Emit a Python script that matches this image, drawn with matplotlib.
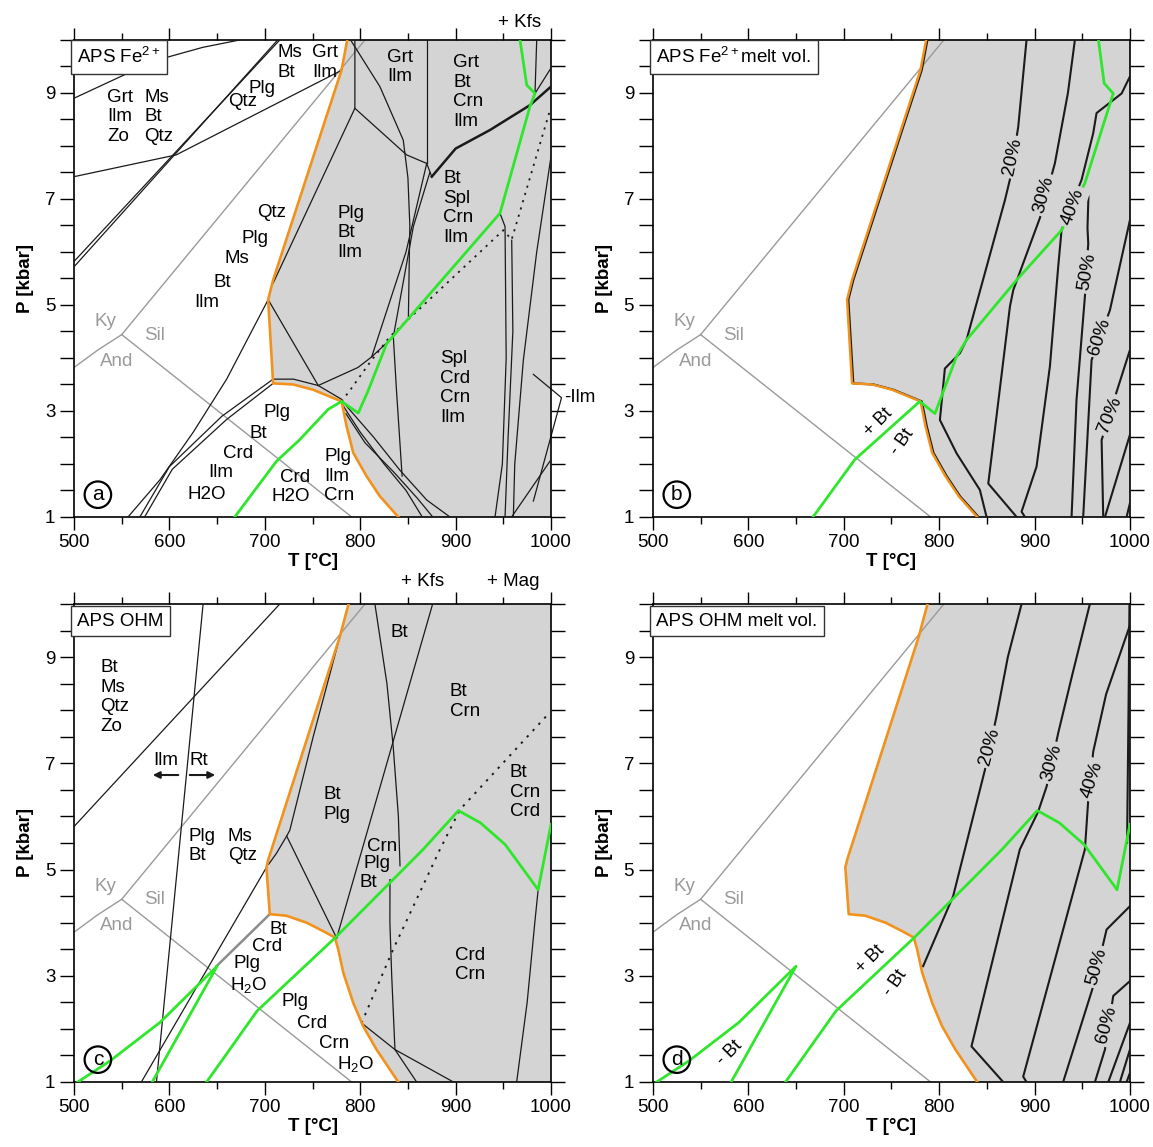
import numpy as np
import matplotlib.pyplot as plt
from matplotlib.ticker import MultipleLocator, FixedLocator

plt.rcParams['font.family'] = ['Liberation Sans', 'DejaVu Sans']
plt.rcParams['mathtext.fontset'] = 'custom'
plt.rcParams['mathtext.rm'] = 'Liberation Sans'
plt.rcParams['mathtext.it'] = 'Liberation Sans:italic'
plt.rcParams['mathtext.bf'] = 'Liberation Sans:bold'

SHADE = '#d4d4d4'
ORANGE = '#f2921c'
GREEN = '#2fe62c'
ALGRAY = '#9a9a9a'
INK = '#1a1a1a'
FS = 13.5

# aluminosilicate reactions (T [C], P [kbar])
ky_sil = [(550, 4.44), (805, 10.0)]
and_sil = [(550, 4.44), (791, 1.0)]
ky_and = [(500, 3.82), (525, 4.15), (550, 4.44)]

# solidus, APS Fe2+ (a, b)
sol_fe = [(786.4, 10), (780.4, 9.43), (708.7, 5.47), (703.5, 5.10), (708.7, 3.52),
          (729.7, 3.50), (750.7, 3.40), (768.2, 3.27), (780.4, 3.18), (782.2, 3.03),
          (785.7, 2.71), (792.7, 2.21), (806.6, 1.77), (820.6, 1.39), (839.9, 1.0)]
# solidus, APS OHM (c, d)
sol_ohm = [(787.8, 10), (778.7, 9.39), (703.5, 5.18), (701.7, 5.04), (705.2, 4.16),
           (722.7, 4.13), (743.7, 4.0), (761.2, 3.84), (773.4, 3.72), (776.9, 3.50),
           (782.2, 3.06), (792.7, 2.49), (803.1, 2.05), (817.1, 1.61), (839.9, 1.0)]

# biotite-out (green) lines
bt_fe = [(668.5, 1.0), (712.2, 2.05), (736.7, 2.46), (766.4, 3.03), (780.4, 3.18),
         (797.9, 2.96), (808.5, 3.39), (827.7, 4.27), (946.5, 6.73), (978, 8.75),
         (983.2, 8.99), (974.5, 9.15), (967.5, 10)]
bt_fe_melt = [(667.8, 1.0), (711.5, 2.08), (779.7, 3.18), (795.6, 2.95), (818.3, 4.03),
              (828.7, 4.34), (881.2, 5.47), (928.3, 6.41), (952.8, 7.30), (982.5, 8.99),
              (973, 9.18), (967, 10)]
bt_ohm_low = [(504, 1.0), (538, 1.40), (590, 2.12), (650, 3.18), (582, 1.0)]
bt_ohm = [(639, 1.0), (692, 2.34), (774, 3.72), (866, 5.38), (903, 6.11),
          (926, 5.88), (952, 5.47), (986.5, 4.62), (1000, 5.85)]

# APS Fe2+ phase boundaries
fe_lines = [
    [(500, 8.90), (555, 9.36), (597, 9.67), (635, 9.86), (674, 10)],
    [(500, 7.42), (607, 7.83), (779.7, 9.42)],
    [(500, 5.82), (715.7, 10)],
    [(500, 5.72), (713.5, 10)],
    [(703.5, 5.1), (660, 3.6), (625, 2.6), (590, 1.7), (556.6, 1.0)],
    [(708.7, 3.6), (655, 2.9), (600, 1.95), (569, 1.0)],
    [(708.7, 3.52), (660, 2.84), (603, 1.9), (574, 1.0)],
    [(708.7, 3.6), (730, 3.6), (756, 3.48), (780.4, 3.22)],
    [(703.5, 5.1), (756, 3.48)],
    [(756, 3.48), (797.6, 3.82), (812, 4.02), (834.7, 4.40)],
    [(834.7, 4.4), (838, 3.39), (843.9, 1.77)],
    [(873, 7.5), (855.7, 6.48), (834.7, 4.40)],
    [(869.7, 7.67), (848, 6.0), (812, 4.02)],
    [(790.9, 9.97), (820.6, 9.12), (845.1, 8.11), (850, 7.4), (852, 6.5), (850.5, 4.78)],
    [(794.4, 10), (794.4, 8.71), (708.7, 5.41)],
    [(794.4, 8.71), (848.7, 7.83), (869.7, 7.67), (875, 7.42)],
    [(869.7, 10), (869.7, 7.67)],
    [(985, 10), (983.2, 8.99)],
    [(983.2, 8.99), (1000, 9.47)],
    [(946.5, 6.73), (951.8, 6.48), (953, 4.0), (949, 2.0), (941.3, 1.0)],
    [(958.8, 6.22), (960, 4.5), (955, 2.5), (951.8, 1.0)],
    [(1000, 7.8), (985, 6.0), (971, 3.96), (962, 2.0), (960.5, 1.0)],
    [(958.7, 1.0), (1000, 2.08)],
    [(782, 3.1), (800, 2.6), (825, 2.0), (848, 1.5), (865, 1.0)],
    [(785, 2.95), (805, 2.4), (835, 1.85), (860, 1.35), (876, 1.0)],
    [(780.4, 3.2), (813.8, 2.51), (841.7, 1.88), (869.7, 1.32), (894, 1.0)],
]
fe_heavy = [(875, 7.42), (900, 7.95), (936, 8.30), (978, 8.77), (1000, 9.12)]
fe_dotted = [(780.4, 3.18), (789.3, 3.39), (812, 3.96), (831, 4.40), (950, 6.41),
             (958.7, 6.23), (999, 8.68)]
ilm_bracket = [(981.5, 3.69), (1011, 3.25), (981.5, 1.30)]

# APS OHM phase boundaries
ohm_lines = [
    [(635.3, 10), (586.4, 1.0)],
    [(500, 5.81), (715.7, 10)],
    [(701.7, 5.04), (570.6, 1.0)],
    [(778.7, 9.39), (750.7, 7.5), (726.2, 5.74), (722.9, 5.63), (712, 5.3), (704, 5.1)],
    [(722.9, 5.63), (775.3, 3.71)],
    [(875.9, 10), (775.3, 3.71)],
    [(815.4, 10), (828, 8.5), (834.6, 7.31), (840, 6.0), (841.7, 5.07)],
    [(831.2, 4.81), (831.1, 4.0), (833, 3.0), (836.4, 1.61), (859.1, 1.0)],
    [(801.4, 2.11), (836.4, 1.61), (897.6, 1.0)],
    [(964, 1.0), (975, 2.5), (983, 4.0), (986.5, 4.62)],
]
ohm_gray = [(705.2, 4.16), (649.3, 3.18)]
ohm_dotted = [(801.4, 2.11), (834.6, 3.50), (883.6, 5.38), (904.6, 6.13), (997.2, 7.93)]

# melt volume isopleths
fe_melt = {
    '20%': [(891.6, 10), (882.9, 8.36), (874.1, 7.36), (869, 6.98), (828.7, 4.34),
            (821.8, 4.09), (806, 3.80), (800.8, 2.83), (818.3, 2.2), (842.7, 1.51), (849.7, 1.0)],
    '30%': [(942.3, 10), (935, 9), (921.3, 7.67), (905.6, 6.64), (877.7, 5.28),
            (874.2, 4.97), (851.5, 1.63), (881.2, 1.0)],
    '40%': [(1000, 9.31), (991.3, 8.99), (965, 8.62), (961.5, 8.24), (949.3, 7.36),
            (928.3, 6.41), (924.8, 5.72), (916.1, 3.84), (902.1, 1.95), (886.4, 1.10), (889.9, 1.0)],
    '50%': [(956.5, 7.05), (955.5, 6.45), (956.3, 6.16), (952.8, 5.16), (944, 3.21), (938.8, 1.0)],
    '60%': [(1000, 6.60), (979, 4.90), (959.8, 3.96), (951, 1.0)],
    '70%': [(1000, 4.15), (986, 3.36), (970.3, 2.45), (972, 1.0)],
}
fe_melt_extra = [[(1000, 2.55), (973.8, 1.0)], [(1000, 1.26), (996.5, 1.0)]]
fe_melt_labels = {'20%': (877.4, 7.79, 78), '30%': (909.9, 7.08, 75), '40%': (940.3, 6.85, 70),
                  '50%': (954.9, 5.62, 80), '60%': (968.6, 4.40, 72), '70%': (979, 2.92, 68)}

ohm_melt = {
    '20%': [(886.4, 10), (872, 9.0), (860.1, 7.88), (847.9, 6.87), (827, 5.38),
            (814.7, 4.5), (783.2, 3.18)],
    '30%': [(958, 10), (940, 8.7), (924.8, 7.57), (912.6, 6.56), (903.8, 6.09),
            (884.6, 5.38), (833.9, 1.67), (867.1, 1.0)],
    '40%': [(1000, 9.6), (975, 8.3), (961.5, 7.22), (956.3, 6.31), (952.8, 5.38),
            (888.1, 1.1), (891.6, 1.0)],
    '50%': [(1000, 4.31), (975.5, 3.87), (961.5, 2.8), (930, 1.0)],
    '60%': [(1000, 2.9), (982.5, 2.62), (973.8, 1.61), (963.3, 1.0)],
}
ohm_melt_extra = [[(1000, 2.11), (977.3, 1.0)], [(1000, 1.61), (989.5, 1.0)],
                  [(1000, 1.17), (996.5, 1.0)], [(999.5, 10), (998.5, 8.0), (997, 5.5)]]
ohm_melt_labels = {'20%': (853.3, 7.31, 75), '30%': (918.2, 7.01, 75), '40%': (960.2, 6.69, 72),
                   '50%': (965.4, 3.17, 75), '60%': (975.9, 2.07, 75)}


def draw(ax, pts, **kw):
    t, p = zip(*pts)
    ax.plot(t, p, **kw)


def setup(ax, title, letter):
    ax.set_xlim(500, 1000)
    ax.set_ylim(1, 10)
    ax.xaxis.set_major_locator(MultipleLocator(100))
    ax.xaxis.set_minor_locator(MultipleLocator(50))
    ax.yaxis.set_major_locator(FixedLocator([1, 3, 5, 7, 9]))
    ax.yaxis.set_minor_locator(MultipleLocator(0.5))
    ax.tick_params(axis='x', which='both', direction='out', top=True, width=1, labelsize=13.5)
    ax.tick_params(axis='x', which='major', length=9)
    ax.tick_params(axis='x', which='minor', length=5)
    ax.tick_params(axis='y', which='both', direction='out', right=True, length=10, width=1,
                   labelsize=13.5)
    for s in ax.spines.values():
        s.set_linewidth(1.2)
    ax.set_xlabel('T [°C]', fontweight='bold', fontsize=13.5, labelpad=1)
    ax.set_ylabel('P [kbar]', fontweight='bold', fontsize=13.5, labelpad=8)
    ax.text(0.007, 0.964, title, transform=ax.transAxes, fontsize=FS, va='center', ha='left',
            bbox=dict(boxstyle='square,pad=0.35', fc='white', ec='#333333', lw=1), zorder=10)
    ax.text(525, 1.42, letter, fontsize=15, ha='center', va='center', zorder=10,
            bbox=dict(boxstyle='circle,pad=0.18', fc='none', ec='black', lw=1.6))
    # aluminosilicates
    for seg in (ky_sil, and_sil, ky_and):
        draw(ax, seg, color=ALGRAY, lw=1.0, zorder=2)
    for txt, t, p in (('Ky', 533, 4.68), ('Sil', 584, 4.43), ('And', 545, 3.94)):
        ax.text(t, p, txt, color=ALGRAY, fontsize=FS, ha='center', va='center')


def shade(ax, sol):
    t, p = zip(*sol)
    ax.fill(list(t) + [1010, 1010], list(p) + [1.0, 10.0], color=SHADE, lw=0, zorder=0)


def label(ax, t, p, s, ha='center', **kw):
    ax.text(t, p, s, fontsize=FS, ha=ha, va='center', linespacing=1.2, zorder=6, **kw)


fig = plt.figure(figsize=(11.53, 11.47), dpi=100)
ax_a = fig.add_axes([0.0642, 0.5493, 0.4137, 0.4159])
ax_b = fig.add_axes([0.5663, 0.5493, 0.4137, 0.4159])
ax_c = fig.add_axes([0.0642, 0.0567, 0.4137, 0.4167])
ax_d = fig.add_axes([0.5663, 0.0567, 0.4137, 0.4167])

# ---------------- (a) APS Fe2+
ax = ax_a
setup(ax, 'APS Fe$^{2+}$', 'a')
shade(ax, sol_fe)
for seg in fe_lines:
    draw(ax, seg, color=INK, lw=0.9, zorder=3)
draw(ax, fe_heavy, color=INK, lw=1.8, zorder=3)
draw(ax, fe_dotted, color=INK, lw=1.3, ls=(0, (1.2, 3)), zorder=3)
draw(ax, ilm_bracket, color=INK, lw=0.9, clip_on=False)
draw(ax, sol_fe, color=ORANGE, lw=1.9, zorder=4)
draw(ax, bt_fe, color=GREEN, lw=2.0, zorder=5)
label(ax, 534.6, 8.55, 'Grt\nIlm\nZo', ha='left')
label(ax, 573.4, 8.55, 'Ms\nBt\nQtz', ha='left')
label(ax, 712.8, 9.57, 'Ms\nBt', ha='left')
label(ax, 749.5, 9.57, 'Grt\nIlm', ha='left')
label(ax, 697.1, 9.09, 'Plg')
label(ax, 677.1, 8.83, 'Qtz')
label(ax, 841.7, 9.49, 'Grt\nIlm')
label(ax, 897.3, 9.02, 'Grt\nBt\nCrn\nIlm', ha='left')
for s, t, p in (('Qtz', 707.5, 6.74), ('Plg', 689.7, 6.26), ('Ms', 670.9, 5.87),
                ('Bt', 655.1, 5.42), ('Ilm', 639.4, 5.04)):
    label(ax, t, p, s)
label(ax, 775.7, 6.36, 'Plg\nBt\nIlm', ha='left')
label(ax, 886.8, 6.83, 'Bt\nSpl\nCrn\nIlm', ha='left')
label(ax, 883.6, 3.43, 'Spl\nCrd\nCrn\nIlm', ha='left')
for s, t, p in (('Plg', 712.8, 2.98), ('Bt', 692.9, 2.58), ('Crd', 671.9, 2.19),
                ('Ilm', 654.1, 1.83), ('H2O', 639.4, 1.42)):
    label(ax, t, p, s)
label(ax, 731.7, 1.75, 'Crd')
label(ax, 727.5, 1.38, 'H2O')
label(ax, 762.1, 1.77, 'Plg\nIlm\nCrn', ha='left')
ax.text(967.5, 10.32, '+ Kfs', fontsize=FS, ha='center', va='center', clip_on=False)
ax.text(1014, 3.25, '-Ilm', fontsize=FS, ha='left', va='center', clip_on=False)

# ---------------- (b) APS Fe2+ melt vol.
ax = ax_b
setup(ax, 'APS Fe$^{2+}$melt vol.', 'b')
shade(ax, sol_fe)
draw(ax, [(t + 1.3, p) for t, p in sol_fe], color=INK, lw=1.6, zorder=3)
draw(ax, sol_fe, color=ORANGE, lw=1.8, zorder=4)
for key, seg in fe_melt.items():
    draw(ax, seg, color=INK, lw=1.5, zorder=3)
for seg in fe_melt_extra:
    draw(ax, seg, color=INK, lw=1.5, zorder=3)
draw(ax, bt_fe_melt, color=GREEN, lw=2.0, zorder=5)
for key, (t, p, r) in fe_melt_labels.items():
    ax.text(t, p, key, fontsize=FS, rotation=r, ha='center', va='center', zorder=7,
            bbox=dict(boxstyle='square,pad=0.15', fc=SHADE, ec='none'))
ax.text(735.8, 2.79, '+ Bt', fontsize=13, rotation=45, ha='center', va='center')
ax.text(761, 2.42, '- Bt', fontsize=13, rotation=55, ha='center', va='center')

# ---------------- (c) APS OHM
ax = ax_c
setup(ax, 'APS OHM', 'c')
shade(ax, sol_ohm)
for seg in ohm_lines:
    draw(ax, seg, color=INK, lw=0.9, zorder=3)
draw(ax, ohm_gray, color='#8c8c8c', lw=1.8, zorder=3)
draw(ax, ohm_dotted, color=INK, lw=1.4, ls=(0, (1.2, 3.2)), zorder=3)
draw(ax, sol_ohm, color=ORANGE, lw=1.9, zorder=4)
draw(ax, bt_ohm_low, color=GREEN, lw=2.0, zorder=5)
draw(ax, bt_ohm, color=GREEN, lw=2.0, zorder=5)
label(ax, 527.3, 8.25, 'Bt\nMs\nQtz\nZo', ha='left')
label(ax, 596.4, 7.06, 'Ilm')
label(ax, 631, 7.06, 'Rt')
ax.annotate('', xy=(579.7, 6.78), xytext=(612.2, 6.78),
            arrowprops=dict(arrowstyle='-|>', color=INK, lw=1.5, mutation_scale=10))
ax.annotate('', xy=(650.9, 6.78), xytext=(618.4, 6.78),
            arrowprops=dict(arrowstyle='-|>', color=INK, lw=1.5, mutation_scale=10))
label(ax, 619.5, 5.44, 'Plg\nBt', ha='left')
label(ax, 661.4, 5.44, 'Ms\nQtz', ha='left')
label(ax, 840.7, 9.47, 'Bt')
label(ax, 894.1, 8.16, 'Bt\nCrn', ha='left')
label(ax, 761, 6.22, 'Bt\nPlg', ha='left')
label(ax, 957, 6.46, 'Bt\nCrn\nCrd', ha='left')
for s, t, p in (('Crn', 822.9, 5.43), ('Plg', 817.6, 5.12), ('Bt', 808.2, 4.75),
                ('Bt', 713.8, 3.88), ('Crd', 702.3, 3.56), ('Plg', 681.3, 3.24),
                ('H$_2$O', 683.4, 2.83), ('Plg', 731.7, 2.51), ('Crd', 749.5, 2.11),
                ('Crn', 772.5, 1.72), ('H$_2$O', 795.6, 1.34)):
    label(ax, t, p, s)
label(ax, 899.4, 3.20, 'Crd\nCrn', ha='left')
ax.text(865.8, 10.42, '+ Kfs', fontsize=FS, ha='center', va='center', clip_on=False)
ax.text(960.2, 10.42, '+ Mag', fontsize=FS, ha='center', va='center', clip_on=False)

# ---------------- (d) APS OHM melt vol.
ax = ax_d
setup(ax, 'APS OHM melt vol.', 'd')
shade(ax, sol_ohm)
draw(ax, sol_ohm, color=ORANGE, lw=1.9, zorder=4)
for key, seg in ohm_melt.items():
    draw(ax, seg, color=INK, lw=1.5, zorder=3)
for seg in ohm_melt_extra:
    draw(ax, seg, color=INK, lw=1.5, zorder=3)
draw(ax, bt_ohm_low, color=GREEN, lw=2.0, zorder=5)
draw(ax, bt_ohm, color=GREEN, lw=2.0, zorder=5)
for key, (t, p, r) in ohm_melt_labels.items():
    ax.text(t, p, key, fontsize=FS, rotation=r, ha='center', va='center', zorder=7,
            bbox=dict(boxstyle='square,pad=0.15', fc=SHADE, ec='none'))
ax.text(727.5, 3.30, '+ Bt', fontsize=13, rotation=45, ha='center', va='center')
ax.text(753.7, 2.86, '- Bt', fontsize=13, rotation=55, ha='center', va='center')
ax.text(580.7, 1.55, '- Bt', fontsize=13, rotation=45, ha='center', va='center')

fig.savefig('out.png', dpi=100)
